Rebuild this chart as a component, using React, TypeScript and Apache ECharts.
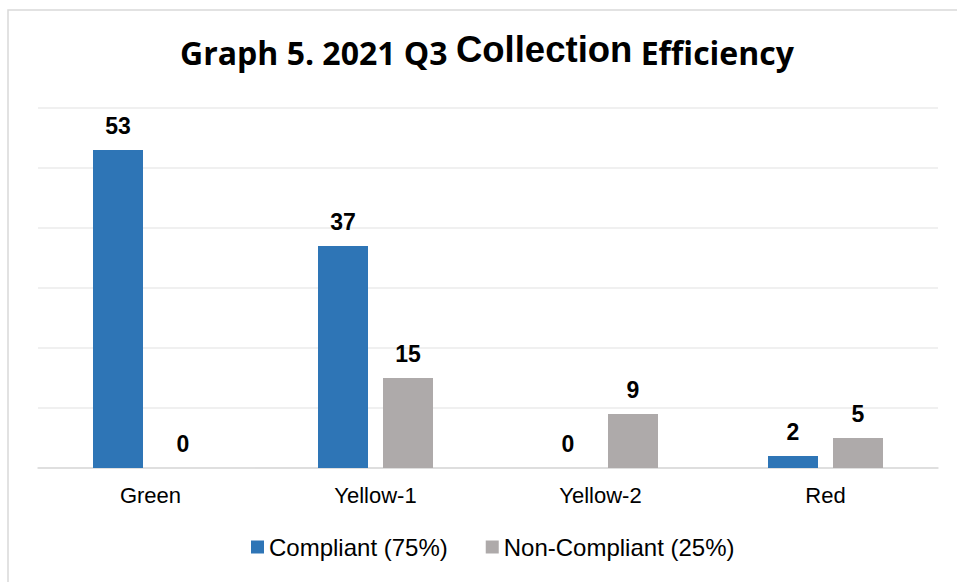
import React, { useEffect, useRef } from "react";
import * as echarts from "echarts";

const categories = ["Green", "Yellow-1", "Yellow-2", "Red"];
const compliant = [53, 37, 0, 2];
const nonCompliant = [0, 15, 9, 5];
const seriesNames = ["Compliant (75%)", "Non-Compliant (25%)"];
const titleParts = ["Graph 5. 2021 Q3 ", "Collection", " Efficiency"];

export default function App() {
  const ref = useRef<HTMLDivElement>(null);
  useEffect(() => {
    if (!ref.current) return;
    const chart = echarts.init(ref.current, undefined, { renderer: "svg" });
    const labelStyle = {
      show: true,
      position: "top" as const,
      distance: 13,
      fontFamily: "Liberation Sans, Arial, sans-serif",
      fontWeight: "bold" as const,
      fontSize: 23,
      color: "#000",
    };
    chart.setOption({
      animation: false,
      backgroundColor: "#fff",
      graphic: [
        {
          type: "rect",
          shape: { x: 8, y: 10, width: 1000, height: 700 },
          style: { fill: "none", stroke: "#d9d9d9", lineWidth: 1.5 },
          z: -1,
        },
      ],
      title: {
        left: 175,
        top: 23,
        text:
          "{a|" + titleParts[0] + "}{b|" + titleParts[1] + "}{c|" + titleParts[2] + "}",
        textStyle: {
          rich: {
            a: {
              fontFamily: "Open Sans, sans-serif",
              fontWeight: "bold",
              fontSize: 32,
              color: "#000",
              verticalAlign: "bottom",
              lineHeight: 40,
            },
            b: {
              fontFamily: "Liberation Sans, Arial, sans-serif",
              fontWeight: "bold",
              fontSize: 36.5,
              color: "#000",
              verticalAlign: "bottom",
              lineHeight: 28,
            },
            c: {
              fontFamily: "Open Sans, sans-serif",
              fontWeight: "bold",
              fontSize: 32,
              color: "#000",
              verticalAlign: "bottom",
              lineHeight: 40,
            },
          },
        },
      },
      legend: {
        bottom: 18,
        left: 246,
        icon: "rect",
        itemWidth: 13,
        itemHeight: 13,
        itemGap: 38,
        textStyle: {
          fontFamily: "Liberation Sans, Arial, sans-serif",
          fontSize: 24,
          color: "#000",
          padding: [0, 0, 0, 0],
        },
        data: seriesNames,
      },
      grid: { left: 38, right: 19, top: 108, bottom: 114 },
      xAxis: {
        type: "category",
        data: categories,
        axisLine: { lineStyle: { color: "#d9d9d9", width: 1.5 } },
        axisTick: { show: false },
        axisLabel: {
          fontFamily: "Liberation Sans, Arial, sans-serif",
          fontSize: 22,
          color: "#000",
          margin: 16,
        },
      },
      yAxis: {
        type: "value",
        min: 0,
        max: 60,
        interval: 10,
        axisLabel: { show: false },
        axisLine: { show: false },
        axisTick: { show: false },
        splitLine: { lineStyle: { color: "#ebebeb", width: 1.5 } },
      },
      series: [
        {
          name: seriesNames[0],
          type: "bar",
          data: compliant,
          barWidth: 50,
          barGap: "30%",
          itemStyle: { color: "#2e75b6" },
          label: labelStyle,
        },
        {
          name: seriesNames[1],
          type: "bar",
          data: nonCompliant,
          barWidth: 50,
          barGap: "30%",
          itemStyle: { color: "#aeaaaa" },
          label: labelStyle,
        },
      ],
    });
    return () => chart.dispose();
  }, []);
  return (
    <div
      ref={ref}
      style={{ position: "absolute", left: 0, top: 0, width: 957, height: 582 }}
    />
  );
}
